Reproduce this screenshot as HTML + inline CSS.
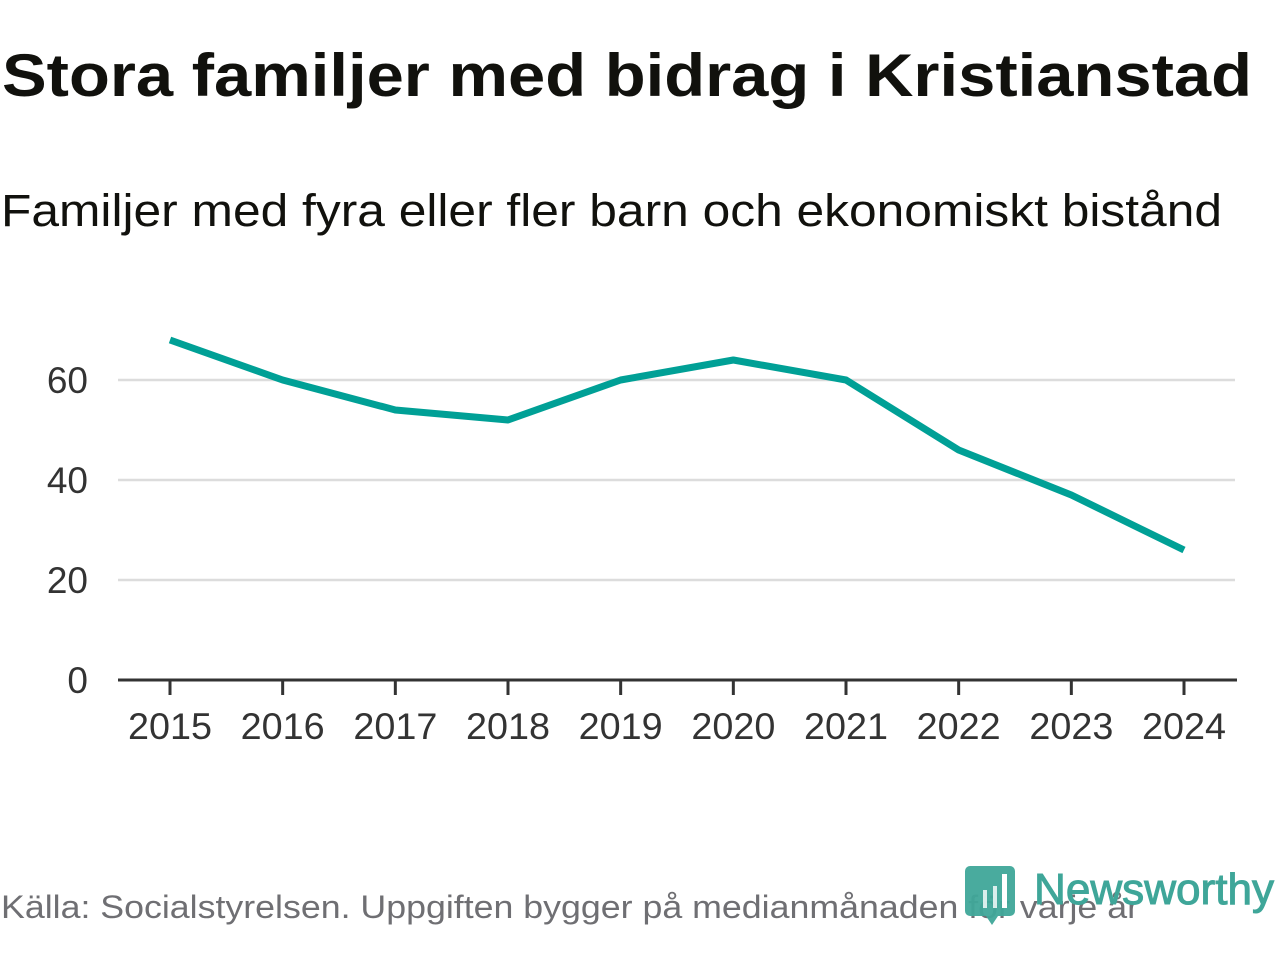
<!DOCTYPE html>
<html><head><meta charset="utf-8"><style>
html,body{margin:0;padding:0;background:#fff;width:1280px;height:960px;overflow:hidden}
svg{display:block}
text{font-family:"Liberation Sans","DejaVu Sans",sans-serif}
</style></head><body>
<svg id="chart" width="1280" height="960">
<text x="2" y="96" font-size="60" font-weight="bold" fill="#11110d" textLength="1250" lengthAdjust="spacingAndGlyphs">Stora familjer med bidrag i Kristianstad</text>
<text x="1" y="226" font-size="45" fill="#11110d" textLength="1221" lengthAdjust="spacingAndGlyphs">Familjer med fyra eller fler barn och ekonomiskt bistånd</text>
<g id="grid"></g>
<g id="yaxis"></g>
<g id="xaxis"></g>
<path id="line" fill="none" stroke="#00a096" stroke-width="7" stroke-linejoin="round"/>
<text x="1" y="918" font-size="32" fill="#6f6f73" textLength="1138" lengthAdjust="spacingAndGlyphs">Källa: Socialstyrelsen. Uppgiften bygger på medianmånaden för varje år</text>
<g>
<path d="M970 866 h40 a5 5 0 0 1 5 5 v40 a5 5 0 0 1 -5 5 h-12 l-6 9 l-6 -9 h-16 a5 5 0 0 1 -5 -5 v-40 a5 5 0 0 1 5 -5z" fill="#3fa699" opacity="0.95"/>
<rect x="1002" y="874" width="5" height="34" fill="#fff"/>
<rect x="983" y="890" width="4" height="18" fill="#fff" opacity="0.8"/>
<rect x="993" y="886" width="4" height="22" fill="#fff" opacity="0.8"/>
<text x="1034" y="904" font-size="44" fill="#3fa699" stroke="#3fa699" stroke-width="1" textLength="240" lengthAdjust="spacingAndGlyphs">Newsworthy</text>
</g>
</svg>
<script>
const years=["2015","2016","2017","2018","2019","2020","2021","2022","2023","2024"];
const values=[68,60,54,52,60,64,60,46,37,26];
const yTicks=[0,20,40,60];
const NS="http://www.w3.org/2000/svg";
const x0=170,x1=1184,yBase=680,pxPerUnit=5;
function xScale(i){return x0+(x1-x0)*i/(years.length-1);}
function yScale(v){return yBase-v*pxPerUnit;}
function mk(tag,attrs,parent){const e=document.createElementNS(NS,tag);for(const k in attrs)e.setAttribute(k,attrs[k]);parent.appendChild(e);return e;}
const grid=document.getElementById('grid'),ya=document.getElementById('yaxis'),xa=document.getElementById('xaxis');
yTicks.forEach(t=>{
  if(t>0){const g=mk('line',{x1:118,x2:1235,y1:yScale(t),y2:yScale(t),stroke:'#dcdcdc','stroke-width':2.5},grid);
  
  }
  const l=mk('text',{x:88,y:yScale(t)+13,'font-size':37,fill:'#333','text-anchor':'end'},ya);
  l.textContent=t;
  
  
});
const ax=mk('line',{x1:118,x2:1237,y1:yBase,y2:yBase,stroke:'#333','stroke-width':3},xa);


years.forEach((y,i)=>{
  const tk=mk('line',{x1:xScale(i),x2:xScale(i),y1:yBase,y2:yBase+15,stroke:'#333','stroke-width':3},xa);
  
  
  const l=mk('text',{x:xScale(i),y:739,'font-size':37,fill:'#333','text-anchor':'middle',textLength:84,lengthAdjust:'spacingAndGlyphs'},xa);
  l.textContent=y;
  
  
});
const pts=values.map((v,i)=>[xScale(i),yScale(v)]);
document.getElementById('line').setAttribute('d','M'+pts.map(p=>p[0]+','+p[1]).join(' L'));
</script>
</body></html>
